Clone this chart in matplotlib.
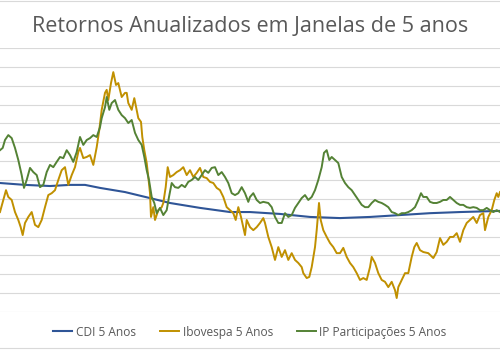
import matplotlib.pyplot as plt
from matplotlib.lines import Line2D

# posicao da janela no eixo do tempo (0 = inicio, 500 = fim) e retorno anualizado em %
t_cdi = [0, 25, 50, 70, 85, 100, 125, 150, 170, 200, 230, 250, 280, 310, 340, 370, 400, 430, 460, 500]
cdi = [14.2, 13.7, 13.4, 13.7, 13.7, 12.9, 11.8, 10.2, 8.9, 7.6, 6.5, 6.5, 6.0, 5.2, 4.9, 5.2, 5.7, 6.2, 6.5, 6.8]

t_ibov = [0, 3.3, 6, 8.3, 11.7, 15, 18.3, 20.7, 22.7, 25, 28.3, 31.7, 35, 38.3, 41.7, 45, 48.3, 51.7, 55, 58.3,
          61.7, 65, 68.3, 71.7, 75, 78.3, 80, 83.3, 86.7, 90, 93.3, 96.7, 99.3, 101.7, 105, 106.7, 108.3, 111, 113.3, 116,
          118.3, 121.7, 125, 126.7, 128.3, 131.7, 134.3, 136.7, 138.3, 141, 142.3, 144.3, 146.7, 148.3, 150, 151, 153.3, 155, 158.3, 161.7,
          163.3, 165.7, 167.7, 170, 173.3, 176.7, 180, 183.3, 186.7, 190, 193.3, 196.7, 200, 203.3, 206.7, 210, 213.3, 216.7, 220, 223.3,
          226.7, 230, 233.3, 235.7, 238.3, 241, 243.3, 245, 246.7, 250, 253.3, 256.7, 260, 263.3, 265, 268.3, 271.7, 275, 278.3, 281.7,
          285, 288.3, 291.7, 295, 298.3, 301.7, 303.3, 306.7, 309.3, 311.7, 315, 316.7, 319, 320.7, 323.3, 326.7, 330, 333.3, 336.7, 340,
          343.3, 346.7, 350, 353.3, 356.7, 360, 363.3, 366.7, 370, 371.7, 375, 378.3, 381.7, 385, 388.3, 391.7, 395, 396.7, 398.3, 401.7,
          405, 408.3, 411.7, 414.3, 416.7, 420, 423.3, 428.3, 433.3, 436.7, 440, 443.3, 446.7, 450, 453.3, 456.7, 460, 463.3, 466.7, 470,
          473.3, 476.7, 480, 483.3, 485, 488.3, 491.7, 494.3, 496.7, 498.3, 500]
ibov = [6.5, 9.7, 12.3, 10.5, 9.7, 6.5, 4.4, 2.5, 0.4, 3.6, 5.2, 6.5, 3.1, 2.5, 4.4, 7.8, 11.0, 11.5, 12.3, 15.0,
        17.6, 18.4, 13.7, 16.3, 18.4, 22.4, 23.5, 20.8, 21.1, 21.6, 19.0, 23.7, 28.3, 33.6, 38.1, 38.9, 36.2, 40.7, 43.6, 40.2,
        40.7, 37.0, 38.1, 38.1, 35.4, 33.6, 36.7, 33.6, 31.4, 30.4, 26.4, 22.9, 19.5, 15.8, 11.5, 5.2, 7.8, 4.4, 7.0, 7.8,
        8.9, 13.1, 18.4, 15.8, 16.3, 17.1, 17.6, 18.4, 16.3, 17.6, 15.8, 16.9, 18.2, 15.8, 15.5, 14.5, 14.2, 12.9, 12.3, 10.5,
        7.8, 7.0, 6.2, 4.4, 7.8, 5.2, 2.5, 0.4, 4.4, 2.5, 1.7, 2.5, 3.6, 4.9, 3.6, -0.1, -2.8, -6.2, -2.8, -5.4,
        -3.6, -6.2, -4.4, -6.2, -7.0, -8.1, -9.7, -11.0, -10.7, -8.1, -2.8, 1.7, 8.9, 4.4, 1.7, -0.1, -1.7, -2.8, -4.4, -4.4,
        -3.0, -5.4, -7.0, -8.1, -9.7, -11.5, -11.0, -11.5, -8.1, -5.4, -7.0, -9.7, -11.5, -12.0, -13.4, -12.0, -14.2, -16.3, -13.4, -11.5,
        -9.7, -9.7, -5.4, -2.8, -1.7, -3.6, -4.1, -4.4, -5.7, -4.1, -0.4, -2.2, -1.4, -0.1, -0.1, 0.9, -1.4, 1.7, 3.6, 4.4,
        5.2, 3.6, 5.7, 6.2, 1.7, 5.2, 7.0, 9.7, 11.5, 10.5, 11.8]

t_ip = [0, 2.7, 5, 8.3, 11.7, 15, 18.3, 21.7, 24, 26.7, 30, 33.3, 36.7, 40, 43.3, 46.7, 50, 53.3, 56.7, 60,
        63.3, 66.7, 70, 73.3, 76.7, 80, 83.3, 86.7, 90, 93.3, 96.7, 100, 101.7, 105, 106.7, 109.3, 111.7, 115, 118.3, 121.7,
        125, 128.3, 131.7, 135, 138.3, 141.7, 144.3, 146.7, 149, 151.7, 154.3, 156.7, 160, 163.3, 166.7, 169, 171.7, 175, 178.3, 181.7,
        185, 188.3, 191.7, 195, 198.3, 201.7, 205, 208.3, 211.7, 215, 218.3, 221.7, 225, 228.3, 231.7, 235, 238.3, 241.7, 245, 248.3,
        250, 253.3, 256.7, 260, 263.3, 268.3, 271.7, 275, 278.3, 281.7, 285, 288.3, 291.7, 295, 298.3, 301.7, 305, 308.3, 311.7, 315,
        318.3, 321.7, 324, 326.7, 329.3, 331.7, 335, 338.3, 341.7, 345, 348.3, 351.7, 355, 358.3, 361.7, 365, 368.3, 371.7, 375, 378.3,
        381.7, 385, 388.3, 391.7, 395, 398.3, 401.7, 405, 408.3, 411.7, 415, 418.3, 421, 423.3, 426.7, 430, 433.3, 436.7, 440, 443.3,
        446.7, 450, 453.3, 456.7, 460, 463.3, 466.7, 470, 473.3, 476.7, 480, 483.3, 486.7, 490, 493.3, 496.7, 500]
ip = [22.9, 23.5, 25.6, 26.9, 26.1, 23.5, 20.3, 16.3, 12.9, 15.0, 18.2, 17.1, 16.3, 13.1, 13.7, 17.1, 19.0, 18.4, 19.8, 21.1,
      20.8, 22.9, 21.6, 19.8, 22.4, 26.4, 24.3, 25.6, 26.1, 26.9, 26.4, 29.0, 31.4, 34.3, 37.0, 33.6, 35.4, 36.2, 33.6, 32.2,
      31.4, 30.1, 30.9, 27.5, 25.6, 24.3, 21.1, 17.6, 15.0, 10.5, 8.9, 6.2, 7.6, 5.7, 7.0, 10.5, 14.2, 13.1, 12.9, 13.7,
      13.1, 14.5, 15.0, 15.8, 15.0, 16.3, 17.6, 16.9, 18.2, 18.4, 16.3, 17.1, 15.8, 14.2, 11.5, 11.0, 11.5, 13.1, 11.5, 9.2,
      10.5, 11.5, 9.7, 8.9, 9.2, 8.9, 7.8, 5.2, 3.6, 3.6, 6.2, 5.2, 5.7, 7.6, 8.9, 10.2, 11.0, 9.7, 10.5, 12.3,
      15.0, 18.4, 22.2, 22.9, 20.3, 21.1, 20.3, 19.5, 15.8, 14.2, 13.1, 12.3, 11.0, 9.7, 8.4, 7.8, 7.8, 8.9, 9.7, 9.2,
      8.9, 8.4, 7.8, 6.5, 6.2, 5.7, 6.2, 6.2, 6.5, 7.0, 7.8, 9.7, 11.5, 10.5, 10.5, 9.2, 8.9, 8.9, 9.2, 9.7,
      9.7, 10.5, 9.7, 8.9, 8.4, 8.4, 7.8, 7.6, 7.8, 7.6, 7.0, 7.0, 7.6, 7.0, 6.5, 7.0, 6.5]

fig = plt.figure(figsize=(5, 3.5), dpi=100)
ax = fig.add_axes([0, 0.1086, 1, 0.7543])

ax.plot(t_cdi, cdi, color='#2F5597', linewidth=1.5, label='CDI 5 Anos')
ax.plot(t_ibov, ibov, color='#C09000', linewidth=1.4, label='Ibovespa 5 Anos')
ax.plot(t_ip, ip, color='#548235', linewidth=1.4, label='IP Participações 5 Anos')

ax.set_xlim(0, 500)
ax.set_ylim(-20, 50)
ax.set_yticks(range(-20, 51, 5))
ax.grid(axis='y', color='#d9d9d9', linewidth=0.8)
ax.set_axisbelow(True)
ax.tick_params(left=False, bottom=False, labelleft=False, labelbottom=False)
for s in ax.spines.values():
    s.set_visible(False)

fig.text(0.5, 0.925, 'Retornos Anualizados em Janelas de 5 anos', ha='center', va='center',
         fontsize=15.5, color='#595959', family='Open Sans')

fig.legend(loc='center', bbox_to_anchor=(0.5, 0.051), ncol=3, frameon=False,
           prop={'family': 'Open Sans', 'size': 8.6}, labelcolor='#595959',
           handlelength=1.6, handletextpad=0.3, columnspacing=2.0)

# bordas da area do grafico
fig.add_artist(Line2D([0, 1], [0.997, 0.997], color='#d9d9d9', linewidth=0.8))
fig.add_artist(Line2D([0, 1], [0.006, 0.006], color='#d9d9d9', linewidth=0.8))

fig.savefig('out.png', dpi=100)
